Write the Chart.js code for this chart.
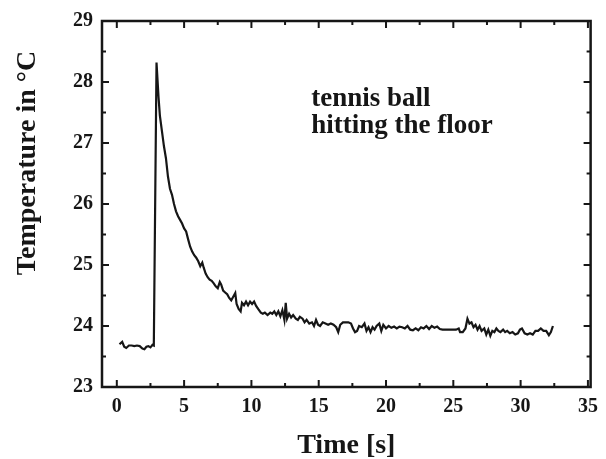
<!DOCTYPE html>
<html lang="en">

<head>
    <meta charset="UTF-8">
    <title>Tennis ball hitting the floor</title>
    <script src="https://cdn.jsdelivr.net/npm/chart.js"></script>
    <style>
        body { margin: 0; background: #fff; }
        #wrap { width: 606px; height: 459px; }
    </style>
</head>

<body>
    <div id="wrap"><canvas id="myChart" width="606" height="459"></canvas></div>

    <script>
        // time in s, temperature in degC
        var timeS = [
            0.2, 0.4, 0.55, 0.7, 0.9, 1.1, 1.3, 1.5, 1.7, 1.9, 2.05, 2.2, 2.35, 2.5, 2.65, 2.75,
            2.95, 3.1, 3.2, 3.35, 3.5, 3.65, 3.8, 3.95, 4.1, 4.25, 4.4, 4.55, 4.7, 4.85, 5.0,
            5.15, 5.3, 5.45, 5.6, 5.75, 5.9, 6.05, 6.2, 6.35, 6.45, 6.6, 6.75, 6.9, 7.05, 7.2,
            7.35, 7.5, 7.65, 7.75, 7.9, 8.05, 8.2, 8.35, 8.5, 8.65, 8.8, 8.9, 9.05, 9.2, 9.3,
            9.45, 9.6, 9.75, 9.9, 10.05, 10.2, 10.35, 10.5, 10.7, 10.85, 11.0, 11.2, 11.4, 11.55,
            11.7, 11.85, 12.0, 12.15, 12.3, 12.45, 12.55, 12.65, 12.8, 12.95, 13.1, 13.3, 13.45,
            13.6, 13.8, 13.95, 14.1, 14.3, 14.5, 14.65, 14.8, 14.95, 15.1, 15.3, 15.5, 15.7,
            15.9, 16.1, 16.3, 16.45, 16.6, 16.8, 17.0, 17.2, 17.4, 17.55, 17.7, 17.85, 18.0,
            18.2, 18.4, 18.55, 18.7, 18.85, 19.0, 19.15, 19.3, 19.5, 19.65, 19.8, 20.0, 20.2,
            20.4, 20.6, 20.8, 21.0, 21.2, 21.4, 21.6, 21.8, 22.0, 22.2, 22.4, 22.6, 22.8, 23.0,
            23.2, 23.4, 23.6, 23.8, 24.0, 24.2, 24.4, 24.6, 24.8, 25.0, 25.2, 25.4, 25.5, 25.7,
            25.9, 26.05, 26.2, 26.35, 26.5, 26.65, 26.8, 26.95, 27.1, 27.3, 27.45, 27.6, 27.75,
            27.9, 28.05, 28.2, 28.35, 28.5, 28.7, 28.85, 29.0, 29.2, 29.4, 29.6, 29.8, 29.95,
            30.1, 30.3, 30.5, 30.7, 30.9, 31.1, 31.3, 31.5, 31.7, 31.9, 32.1, 32.25, 32.4
        ];
        var tempC = [
            23.70, 23.74, 23.66, 23.64, 23.68, 23.68, 23.67, 23.68, 23.67, 23.63, 23.62, 23.66, 23.67, 23.65, 23.69, 23.68,
            28.32, 27.75, 27.45, 27.20, 26.95, 26.75, 26.45, 26.25, 26.15, 26.00, 25.88, 25.80, 25.74, 25.68, 25.60,
            25.55, 25.42, 25.30, 25.22, 25.16, 25.12, 25.06, 24.98, 25.04, 24.96, 24.86, 24.80, 24.76, 24.74, 24.70,
            24.65, 24.62, 24.72, 24.68, 24.58, 24.55, 24.52, 24.46, 24.42, 24.48, 24.54, 24.36, 24.28, 24.24, 24.38,
            24.34, 24.40, 24.34, 24.40, 24.36, 24.40, 24.33, 24.28, 24.22, 24.20, 24.22, 24.18, 24.22, 24.20,
            24.24, 24.18, 24.24, 24.16, 24.26, 24.10, 24.38, 24.12, 24.20, 24.14, 24.18, 24.12, 24.10,
            24.15, 24.12, 24.06, 24.10, 24.04, 24.06, 24.00, 24.10, 24.02, 24.00, 24.06, 24.04, 24.02,
            24.04, 24.02, 23.98, 23.90, 24.02, 24.06, 24.06, 24.06, 24.04, 23.96, 23.90, 23.92, 24.00,
            23.98, 24.04, 23.92, 23.98, 23.90, 23.98, 23.94, 24.00, 24.04, 23.92, 24.02, 23.96, 24.00,
            23.97, 23.99, 23.96, 23.99, 23.98, 23.96, 24.00, 23.94, 23.93, 23.96, 23.93, 23.98, 23.96, 24.00,
            23.95, 24.00, 23.97, 23.99, 23.95, 23.94, 23.94, 23.94, 23.94, 23.94, 23.94, 23.96, 23.90, 23.90,
            23.96, 24.12, 24.04, 24.06, 23.98, 24.02, 23.94, 24.00, 23.92, 23.96, 23.86, 23.94, 23.84,
            23.92, 23.90, 23.96, 23.92, 23.90, 23.94, 23.90, 23.92, 23.88, 23.90, 23.86, 23.88, 23.94,
            23.96, 23.88, 23.86, 23.88, 23.86, 23.92, 23.92, 23.96, 23.92, 23.92, 23.85, 23.90, 24.00
        ];

        var xTicks = [0, 5, 10, 15, 20, 25, 30, 35];
        var xMinor = [2.5, 7.5, 12.5, 17.5, 22.5, 27.5, 32.5];
        var yTicks = [23, 24, 25, 26, 27, 28, 29];
        var yMinor = [23.5, 24.5, 25.5, 26.5, 27.5, 28.5];
        var noteLines = ['tennis ball', 'hitting the floor'];

        var ink = '#161616';
        var serif = '"Liberation Serif", "DejaVu Serif", serif';

        // frame, inward ticks on all four sides, axis titles and the note
        var framePlugin = {
            id: 'frame',
            afterDraw: function (chart) {
                var ctx = chart.ctx;
                var a = chart.chartArea;
                var xs = chart.scales.x;
                var ys = chart.scales.y;
                ctx.save();
                ctx.strokeStyle = ink;
                ctx.lineWidth = 2.5;
                ctx.strokeRect(a.left, a.top, a.right - a.left, a.bottom - a.top);

                ctx.lineWidth = 2;
                function tickX(v, len) {
                    var px = xs.getPixelForValue(v);
                    ctx.beginPath();
                    ctx.moveTo(px, a.bottom); ctx.lineTo(px, a.bottom - len);
                    ctx.moveTo(px, a.top); ctx.lineTo(px, a.top + len);
                    ctx.stroke();
                }
                function tickY(v, len) {
                    var py = ys.getPixelForValue(v);
                    ctx.beginPath();
                    ctx.moveTo(a.left, py); ctx.lineTo(a.left + len, py);
                    ctx.moveTo(a.right, py); ctx.lineTo(a.right - len, py);
                    ctx.stroke();
                }
                xTicks.forEach(function (v) { tickX(v, 7); });
                xMinor.forEach(function (v) { tickX(v, 4); });
                yTicks.forEach(function (v) { tickY(v, 7); });
                yMinor.forEach(function (v) { tickY(v, 4); });

                ctx.fillStyle = ink;
                ctx.font = 'bold 28px ' + serif;
                ctx.textAlign = 'center';
                ctx.textBaseline = 'alphabetic';
                ctx.fillText('Time [s]', (a.left + a.right) / 2, 453);

                ctx.save();
                ctx.translate(35, 163);
                ctx.rotate(-Math.PI / 2);
                ctx.fillText('Temperature in \u00B0C', 0, 0);
                ctx.restore();

                ctx.font = 'bold 27px ' + serif;
                ctx.textAlign = 'left';
                ctx.fillText(noteLines[0], xs.getPixelForValue(14.45), ys.getPixelForValue(27.61));
                ctx.fillText(noteLines[1], xs.getPixelForValue(14.45), ys.getPixelForValue(27.17));
                ctx.restore();
            }
        };

        var points = timeS.map(function (t, i) { return { x: t, y: tempC[i] }; });

        new Chart(document.getElementById('myChart'), {
            type: 'line',
            data: {
                datasets: [{
                    data: points,
                    borderColor: ink,
                    borderWidth: 2.2,
                    pointRadius: 0,
                    tension: 0,
                    fill: false
                }]
            },
            options: {
                responsive: false,
                animation: false,
                layout: { padding: { top: 20, right: 14, left: 0, bottom: 0 } },
                plugins: { legend: { display: false }, tooltip: { enabled: false } },
                scales: {
                    x: {
                        type: 'linear',
                        min: -1.1,
                        max: 35.2,
                        grid: { display: false, drawTicks: false, tickLength: 0 },
                        border: { display: false },
                        afterBuildTicks: function (scale) {
                            scale.ticks = xTicks.map(function (v) { return { value: v }; });
                        },
                        afterFit: function (scale) { scale.height = 72; },
                        ticks: {
                            padding: 8,
                            maxRotation: 0,
                            color: ink,
                            font: { family: serif, size: 20, weight: 'bold' }
                        }
                    },
                    y: {
                        type: 'linear',
                        min: 23,
                        max: 29,
                        grid: { display: false, drawTicks: false, tickLength: 0 },
                        border: { display: false },
                        afterBuildTicks: function (scale) {
                            scale.ticks = yTicks.map(function (v) { return { value: v }; });
                        },
                        afterFit: function (scale) { scale.width = 102; },
                        ticks: {
                            padding: 9,
                            color: ink,
                            font: { family: serif, size: 20, weight: 'bold' }
                        }
                    }
                }
            },
            plugins: [framePlugin]
        });
    </script>
</body>

</html>
